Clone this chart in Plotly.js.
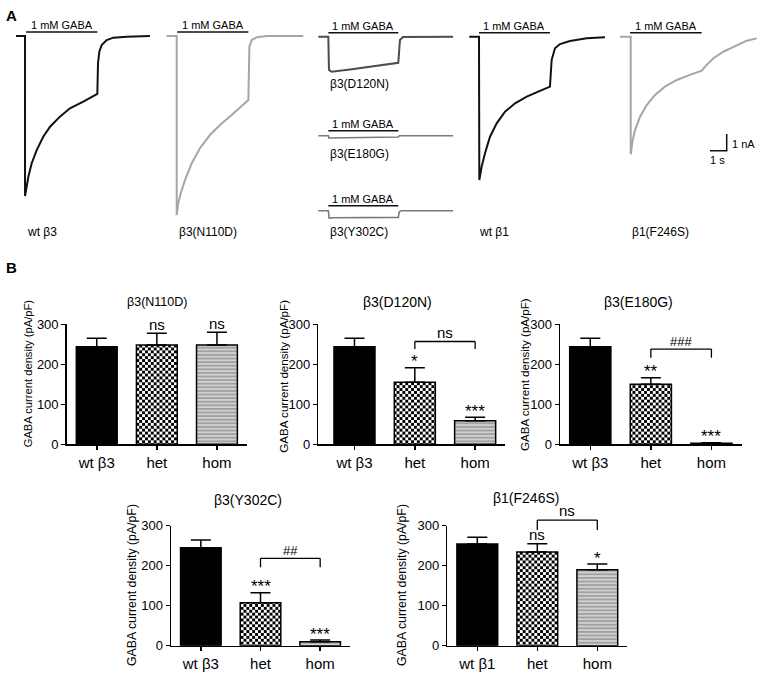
<!DOCTYPE html>
<html><head><meta charset="utf-8">
<script src="https://cdn.plot.ly/plotly-3.0.1.min.js"></script>
<style>html,body{margin:0;padding:0;background:#fff}#chart{width:764px;height:679px}</style>
</head><body><div id="chart"></div>
<script>
// ================= DATA: panel A current traces (time s, current nA rel. to baseline) =================
const wtB3_t = [0, 0.54, 0.54, 0.59, 0.64, 0.74, 0.94, 1.24, 1.63, 2.04, 2.63, 3.23, 4.03, 4.83, 4.87, 4.91, 4.99, 5.13, 5.43, 5.83, 6.63, 8.02];
const wtB3_i = [0, 0, -9.58, -9.28, -9.02, -8.43, -7.62, -6.83, -6.03, -5.43, -4.83, -4.33, -3.93, -3.47, -3.47, -1.63, -0.94, -0.54, -0.24, -0.10, -0.04, 0];
const n110d_t = [0, 0.60, 0.60, 0.69, 0.84, 1.10, 1.50, 1.99, 2.59, 3.19, 3.89, 4.83, 4.89, 4.95, 5.09, 5.39, 5.99, 8.18];
const n110d_i = [0, 0, -10.72, -10.02, -9.42, -8.62, -7.62, -6.72, -5.93, -5.33, -4.73, -3.93, -3.83, -0.64, -0.24, -0.08, 0, 0];
const d120n_t = [0, 0.60, 0.64, 0.80, 1.90, 3.10, 4.79, 4.89, 5.07, 8.07];
const d120n_i = [0, 0, -1.99, -2.10, -1.96, -1.81, -1.56, -0.20, -0.02, 0];
const e180g_t = [0, 0.60, 0.63, 2.50, 4.79, 4.85, 8.07];
const e180g_i = [0, 0, -0.14, -0.12, -0.08, 0, 0];
const y302c_t = [0, 0.60, 0.65, 0.90, 4.79, 4.85, 5.00, 8.07];
const y302c_i = [0, 0, -0.44, -0.42, -0.40, -0.05, 0, 0];
const wtB1_t = [0, 0.58, 0.60, 0.74, 0.94, 1.24, 1.64, 2.14, 2.74, 3.44, 4.13, 4.83, 4.93, 5.13, 5.43, 6.03, 7.03, 8.13];
const wtB1_i = [0, 0, -8.58, -7.78, -6.98, -5.99, -5.19, -4.49, -3.99, -3.59, -3.29, -2.99, -1.40, -0.69, -0.44, -0.26, -0.10, -0.04];
const f246s_t = [0, 0.64, 0.64, 0.76, 0.90, 1.20, 1.60, 2.10, 2.69, 3.40, 4.19, 4.89, 5.19, 5.59, 6.19, 6.99, 7.59, 8.19];
const f246s_i = [0, 0, -7.04, -6.19, -5.59, -4.79, -4.09, -3.49, -2.99, -2.59, -2.29, -2.04, -1.69, -1.29, -0.90, -0.50, -0.24, -0.10];
const traceLabels = ['wt β3', 'β3(N110D)', 'β3(D120N)', 'β3(E180G)', 'β3(Y302C)', 'wt β1', 'β1(F246S)'];
const gabaStart = [0.60, 0.63, 0.60, 0.60, 0.60, 0.58, 0.60];
const gabaEnd   = [4.87, 4.89, 4.79, 4.79, 4.79, 4.83, 4.89];
const gabaText = '1 mM GABA';
const scaleSeconds = 1, scaleNA = 1;

// ================= DATA: panel B current densities (pA/pF) =================
const groupsB3 = ['wt β3', 'het', 'hom'];
const groupsB1 = ['wt β1', 'het', 'hom'];
const chartTitles = ['β3(N110D)', 'β3(D120N)', 'β3(E180G)', 'β3(Y302C)', 'β1(F246S)'];
const n110d_mean = [244, 248, 248];   const n110d_sem = [21, 29.5, 32];
const d120n_mean = [244, 155, 59];    const d120n_sem = [21, 36.5, 8.5];
const e180g_mean = [244, 150, 2.5];   const e180g_sem = [21, 16.5, 1.5];
const y302c_mean = [245, 107.5, 10];  const y302c_sem = [19, 25, 4];
const f246s_mean = [254, 234, 190];   const f246s_sem = [17, 21, 14];
const n110d_sig = ['', 'ns', 'ns'];
const d120n_sig = ['', '*', '***'];
const e180g_sig = ['', '**', '***'];
const y302c_sig = ['', '***', '***'];
const f246s_sig = ['', 'ns', '*'];
const bracketText = ['', 'ns', '###', '##', 'ns'];
const bracketTop  = [null, 257, 238, 218.5, 314];
const bracketLeg  = [null, 238, 216.5, 196, 289];
const yTicks = [0, 100, 200, 300];

// ================= LAYOUT HELPERS =================
const W = 764, H = 679;
const PX = x => x / W, PY = y => 1 - y / H;
const K = 16.7; // px per second and per nA
const FONT = 'Arial, "Liberation Sans", sans-serif';

const data = [];
const layout = {
  width: W, height: H, margin: {l: 0, r: 0, t: 0, b: 0, pad: 0},
  paper_bgcolor: '#fff', plot_bgcolor: 'rgba(0,0,0,0)', showlegend: false,
  font: {family: FONT, color: '#000'},
  annotations: [], shapes: []
};
const ann = a => layout.annotations.push(Object.assign({showarrow: false, font: {family: FONT, size: 12, color: '#000'}}, a));

// ---- Panel A ----
const traces = [
  {t: wtB3_t, i: wtB3_i, color: '#111', w: 2},
  {t: n110d_t, i: n110d_i, color: '#a6a6a6', w: 2},
  {t: d120n_t, i: d120n_i, color: '#4d4d4d', w: 2},
  {t: e180g_t, i: e180g_i, color: '#7a7a7a', w: 1.6},
  {t: y302c_t, i: y302c_i, color: '#7a7a7a', w: 1.6},
  {t: wtB1_t, i: wtB1_i, color: '#111', w: 2},
  {t: f246s_t, i: f246s_i, color: '#a6a6a6', w: 2}
];
const origin = [[16, 36], [166.7, 36], [318.3, 36.7], [318.3, 135.7], [318.3, 210.7], [469.3, 36.7], [620, 36.7]];
const barLevel = [0.24, 0.24, 0.24, 0.30, 0.30, 0.24, 0.24];
const labelPos = [[25, 231.7], [176.7, 231.7], [328.3, 84], [328.3, 154], [328.3, 231.7], [476.7, 231.7], [630, 231.7]];

traces.forEach((tr, j) => {
  const n = 6 + j, xa = 'x' + n, ya = 'y' + n;
  const [x0, y0] = origin[j];
  layout['xaxis' + n] = {domain: [0, 1], range: [(0 - x0) / K, (W - x0) / K], visible: false, fixedrange: true, anchor: ya};
  layout['yaxis' + n] = {domain: [PY(250), 1], range: [(y0 - 250) / K, y0 / K], visible: false, fixedrange: true, anchor: xa};
  data.push({type: 'scatter', mode: 'lines', x: tr.t, y: tr.i, xaxis: xa, yaxis: ya,
    line: {color: tr.color, width: tr.w, shape: 'linear'}, hoverinfo: 'skip'});
  data.push({type: 'scatter', mode: 'lines', x: [gabaStart[j], gabaEnd[j]], y: [barLevel[j], barLevel[j]],
    xaxis: xa, yaxis: ya, line: {color: '#111', width: 1.5}, hoverinfo: 'skip'});
  ann({xref: xa, yref: ya, x: (gabaStart[j] + gabaEnd[j]) / 2, y: barLevel[j], yanchor: 'bottom', xanchor: 'center',
       yshift: -1, text: gabaText, font: {family: FONT, size: 11, color: '#000'}});
  ann({xref: 'paper', yref: 'paper', x: PX(labelPos[j][0]), y: PY(labelPos[j][1]), xanchor: 'left', yanchor: 'middle',
       text: traceLabels[j], font: {family: FONT, size: 12, color: '#000'}});
});
// scale bar (in axes of the last trace)
{
  const ax0 = 5.39, ay0 = -6.83;
  data.push({type: 'scatter', mode: 'lines', x: [ax0, ax0 + scaleSeconds, ax0 + scaleSeconds], y: [ay0, ay0, ay0 + scaleNA],
    xaxis: 'x12', yaxis: 'y12', line: {color: '#111', width: 1.5}, hoverinfo: 'skip'});
  ann({xref: 'paper', yref: 'paper', x: PX(729.5), y: PY(143.5), xanchor: 'left', yanchor: 'middle', text: scaleNA + ' nA', font: {family: FONT, size: 11, color: '#000'}});
  ann({xref: 'paper', yref: 'paper', x: PX(717.5), y: PY(159.5), xanchor: 'center', yanchor: 'middle', text: scaleSeconds + ' s', font: {family: FONT, size: 11, color: '#000'}});
}
ann({xref: 'paper', yref: 'paper', x: PX(11), y: PY(15), xanchor: 'center', yanchor: 'middle', text: '<b>A</b>', font: {family: FONT, size: 15, color: '#000'}});
ann({xref: 'paper', yref: 'paper', x: PX(11), y: PY(268), xanchor: 'center', yanchor: 'middle', text: '<b>B</b>', font: {family: FONT, size: 15, color: '#000'}});

// ---- Panel B ----
const charts = [
  {mean: n110d_mean, sem: n110d_sem, sig: n110d_sig, groups: groupsB3},
  {mean: d120n_mean, sem: d120n_sem, sig: d120n_sig, groups: groupsB3},
  {mean: e180g_mean, sem: e180g_sem, sig: e180g_sig, groups: groupsB3},
  {mean: y302c_mean, sem: y302c_sem, sig: y302c_sig, groups: groupsB3},
  {mean: f246s_mean, sem: f246s_sem, sig: f246s_sig, groups: groupsB1}
];
const box = [ // xLeft, xRight, yTop(300), yBottom(0), xRange
  [66.7, 247, 324.3, 444.3, [-0.5, 2.5]],
  [318.3, 505.3, 324.3, 444.3, [-0.6, 2.5]],
  [560, 741.7, 324.3, 444.3, [-0.5, 2.5]],
  [171, 350, 525.7, 645.7, [-0.5, 2.5]],
  [447.3, 627.3, 525.7, 645.7, [-0.5, 2.5]]
];
const titlePos = [[157, 301.7, 12.5], [397.5, 301.7, 14], [638.3, 301.7, 14], [248.3, 500, 14], [526.2, 498.3, 14]];
const yTitlePos = [[28.3, 373, 11.2], [284, 376.7, 11.6], [524, 375, 11.6], [132, 585, 12.3], [402, 585, 12.3]];

charts.forEach((c, k) => {
  const n = k + 1, sfx = n === 1 ? '' : String(n);
  const xa = 'x' + sfx, ya = 'y' + sfx;
  const [xL, xR, yT, yB, xr] = box[k];
  const axFont = {family: FONT, size: 13, color: '#000'};
  layout['xaxis' + sfx] = {domain: [PX(xL), PX(xR)], range: xr, anchor: ya, fixedrange: true,
    showline: true, linecolor: '#000', linewidth: 1.5, ticks: 'outside', ticklen: 4, tickwidth: 1.5, tickcolor: '#000',
    tickvals: [0, 1, 2], ticktext: c.groups, tickfont: {family: FONT, size: 15, color: '#000'},
    showgrid: false, zeroline: false};
  layout['yaxis' + sfx] = {domain: [PY(yB), PY(yT)], range: [0, 300], anchor: xa, fixedrange: true,
    showline: true, linecolor: '#000', linewidth: 1.5, ticks: 'outside', ticklen: 4, tickwidth: 1.5, tickcolor: '#000',
    tickvals: yTicks, tickfont: axFont, showgrid: false, zeroline: false};
  data.push({type: 'bar', x: [0, 1, 2], y: c.mean, xaxis: xa, yaxis: ya, width: 0.68, hoverinfo: 'skip',
    marker: {color: ['#000', '#fff', '#fff'], line: {color: '#000', width: 1.5},
      pattern: {shape: ['', 'x', '-'], fgcolor: ['#000', '#000', '#111'], bgcolor: '#fff', size: [4, 4, 3.6], solidity: [0.5, 0.6, 0.75], fillmode: 'overlay'}},
    error_y: {type: 'data', symmetric: false, array: c.sem, arrayminus: [0, 0, 0], color: '#000', thickness: 1.5, width: 10}});
  const fx = i => (i - xr[0]) / (xr[1] - xr[0]);
  const fy = v => v / 300;
  const dx = xa + ' domain', dy = ya + ' domain';
  c.sig.forEach((s, i) => {
    if (!s) return;
    const isStar = s[0] === '*';
    ann({xref: dx, yref: dy, x: fx(i), y: fy(c.mean[i] + c.sem[i]), xanchor: 'center', yanchor: 'middle',
         yshift: isStar ? 6 : 9, text: s, font: {family: FONT, size: isStar ? 17 : 15, color: '#000'}});
  });
  if (bracketText[k]) {
    const ln = {color: '#000', width: 1.3};
    const x1 = fx(1), x2 = fx(2), yt = fy(bracketTop[k]), yl = fy(bracketLeg[k]);
    layout.shapes.push({type: 'line', xref: dx, yref: dy, x0: x1, x1: x2, y0: yt, y1: yt, line: ln});
    layout.shapes.push({type: 'line', xref: dx, yref: dy, x0: x1, x1: x1, y0: yt, y1: yl, line: ln});
    layout.shapes.push({type: 'line', xref: dx, yref: dy, x0: x2, x1: x2, y0: yt, y1: yl, line: ln});
    const isHash = bracketText[k][0] === '#';
    ann({xref: dx, yref: dy, x: (x1 + x2) / 2, y: yt, xanchor: 'center', yanchor: 'middle', yshift: isHash ? 8 : 9.5,
         text: bracketText[k], font: {family: FONT, size: isHash ? 13 : 15, color: '#000'}});
  }
  const tp = titlePos[k];
  ann({xref: 'paper', yref: 'paper', x: PX(tp[0]), y: PY(tp[1]), xanchor: 'center', yanchor: 'middle',
       text: chartTitles[k], font: {family: FONT, size: tp[2], color: '#000'}});
  const yp = yTitlePos[k];
  ann({xref: 'paper', yref: 'paper', x: PX(yp[0]), y: PY(yp[1]), xanchor: 'center', yanchor: 'middle', textangle: -90,
       text: 'GABA current density (pA/pF)', font: {family: FONT, size: yp[2], color: '#000'}});
});

Plotly.newPlot('chart', data, layout, {staticPlot: true, displayModeBar: false}).then(gd => {
  // render the 'het' fill as a fine checkerboard (GraphPad style) instead of a crosshatch
  try {
    const NS = 'http://www.w3.org/2000/svg';
    const done = new Set();
    gd.querySelectorAll('.bars .point path').forEach(p => {
      const f = (p.style.fill || p.getAttribute('fill') || '');
      const m = f.match(/#([^"')]+)/);
      if (!m) return;
      const pat = gd.querySelector('pattern#' + CSS.escape(m[1]));
      if (!pat || done.has(m[1])) return;
      const inner = pat.querySelector('path');
      const d = inner ? (inner.getAttribute('d') || '') : '';
      if (!inner || !/l.*l/i.test(d) || /H|h/.test(d) && !/l/.test(d)) return;
      if (pat.getAttribute('height') && Math.abs(parseFloat(pat.getAttribute('width')) - parseFloat(pat.getAttribute('height'))) > 0.01) return;
      done.add(m[1]);
      const c = 2.9;
      while (pat.firstChild) pat.removeChild(pat.firstChild);
      pat.setAttribute('width', 2 * c); pat.setAttribute('height', 2 * c);
      pat.removeAttribute('viewBox');
      const mk = (x, y, col) => { const r = document.createElementNS(NS, 'rect'); r.setAttribute('x', x); r.setAttribute('y', y);
        r.setAttribute('width', c); r.setAttribute('height', c); r.setAttribute('fill', col); pat.appendChild(r); };
      mk(0, 0, '#000'); mk(c, 0, '#fff'); mk(0, c, '#fff'); mk(c, c, '#000');
    });
  } catch (e) { /* keep crosshatch fallback */ }
});
</script>
</body></html>
